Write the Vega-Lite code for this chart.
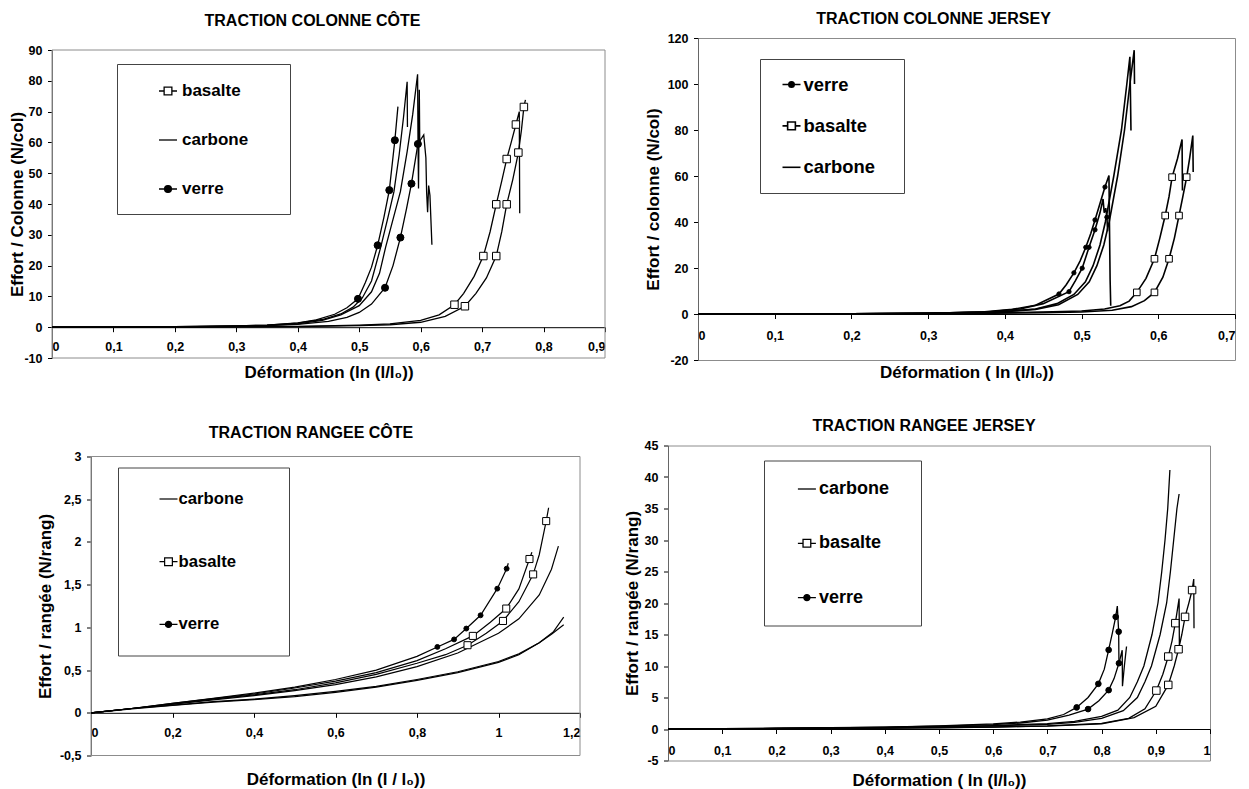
{
"$schema": "https://vega.github.io/schema/vega-lite/v6.json",
"padding": {"left": 8, "top": 10, "right": 3, "bottom": 0},
"config": {
  "locale": {"number": {"decimal": ",", "thousands": " ", "grouping": [3], "currency": ["", " €"], "minus": "-"}},
  "font": "Liberation Sans",
  "view": {"stroke": "#8c8c8c", "strokeWidth": 1},
  "axis": {"grid": false, "labelFont": "Liberation Sans", "labelFontWeight": "bold", "labelFontSize": 12.5, "labelColor": "#000", "titleFont": "Liberation Sans", "titleFontWeight": "bold", "titleFontSize": 17, "titleColor": "#000", "domainColor": "#000", "tickColor": "#000", "tickSize": 4.5, "labelPadding": 5.5},
  "title": {"font": "Liberation Sans", "fontWeight": "bold", "fontSize": 16, "color": "#000", "anchor": "middle"},
  "legend": {"labelFont": "Liberation Sans", "labelFontWeight": "bold", "labelColor": "#000", "symbolSize": 324, "symbolStrokeWidth": 1.3, "symbolStrokeColor": "#000", "strokeColor": "#444", "fillColor": "#fff", "orient": "none", "title": null},
  "point": {"opacity": 1}
},
"datasets": {
"frames": [
{"p":1,"x":0,"x2":0.9,"y":-10,"y2":90},
{"p":3,"x":0,"x2":1.2,"y":-0.5,"y2":3}
],
"curves": [
{"p":1,"m":"verre","c":"1a","x":0,"y":0},{"p":1,"m":"verre","c":"1a","x":0.1,"y":0.05},{"p":1,"m":"verre","c":"1a","x":0.2,"y":0.15},{"p":1,"m":"verre","c":"1a","x":0.3,"y":0.4},{"p":1,"m":"verre","c":"1a","x":0.35,"y":0.7},{"p":1,"m":"verre","c":"1a","x":0.4,"y":1.4},{"p":1,"m":"verre","c":"1a","x":0.43,"y":2.4},{"p":1,"m":"verre","c":"1a","x":0.46,"y":4.2},{"p":1,"m":"verre","c":"1a","x":0.48,"y":6.3},{"p":1,"m":"verre","c":"1a","x":0.498,"y":9.2},{"p":1,"m":"verre","c":"1a","x":0.51,"y":14.5},{"p":1,"m":"verre","c":"1a","x":0.52,"y":19.5},{"p":1,"m":"verre","c":"1a","x":0.53,"y":26.6},{"p":1,"m":"verre","c":"1a","x":0.54,"y":35.5},{"p":1,"m":"verre","c":"1a","x":0.549,"y":44.5},{"p":1,"m":"verre","c":"1a","x":0.558,"y":60.7},{"p":1,"m":"verre","c":"1a","x":0.563,"y":71.6},
{"p":1,"m":"verre","c":"1b","x":0,"y":0},{"p":1,"m":"verre","c":"1b","x":0.1,"y":0.04},{"p":1,"m":"verre","c":"1b","x":0.2,"y":0.12},{"p":1,"m":"verre","c":"1b","x":0.3,"y":0.3},{"p":1,"m":"verre","c":"1b","x":0.35,"y":0.5},{"p":1,"m":"verre","c":"1b","x":0.4,"y":0.9},{"p":1,"m":"verre","c":"1b","x":0.45,"y":1.9},{"p":1,"m":"verre","c":"1b","x":0.48,"y":3.2},{"p":1,"m":"verre","c":"1b","x":0.5,"y":4.8},{"p":1,"m":"verre","c":"1b","x":0.52,"y":7.5},{"p":1,"m":"verre","c":"1b","x":0.542,"y":12.8},{"p":1,"m":"verre","c":"1b","x":0.555,"y":20},{"p":1,"m":"verre","c":"1b","x":0.567,"y":29.1},{"p":1,"m":"verre","c":"1b","x":0.577,"y":38.5},{"p":1,"m":"verre","c":"1b","x":0.585,"y":46.6},{"p":1,"m":"verre","c":"1b","x":0.5955,"y":59.5},{"p":1,"m":"verre","c":"1b","x":0.605,"y":62.4},{"p":1,"m":"verre","c":"1b","x":0.6085,"y":55},{"p":1,"m":"verre","c":"1b","x":0.6097,"y":43.8},{"p":1,"m":"verre","c":"1b","x":0.6113,"y":37.3},{"p":1,"m":"verre","c":"1b","x":0.613,"y":46},{"p":1,"m":"verre","c":"1b","x":0.6151,"y":42.8},{"p":1,"m":"verre","c":"1b","x":0.6183,"y":26.8},
{"p":1,"m":"carbone","c":"1c","x":0,"y":0},{"p":1,"m":"carbone","c":"1c","x":0.1,"y":0.05},{"p":1,"m":"carbone","c":"1c","x":0.2,"y":0.15},{"p":1,"m":"carbone","c":"1c","x":0.3,"y":0.4},{"p":1,"m":"carbone","c":"1c","x":0.35,"y":0.7},{"p":1,"m":"carbone","c":"1c","x":0.4,"y":1.3},{"p":1,"m":"carbone","c":"1c","x":0.44,"y":2.5},{"p":1,"m":"carbone","c":"1c","x":0.47,"y":4.3},{"p":1,"m":"carbone","c":"1c","x":0.49,"y":6.5},{"p":1,"m":"carbone","c":"1c","x":0.505,"y":9.5},{"p":1,"m":"carbone","c":"1c","x":0.52,"y":15},{"p":1,"m":"carbone","c":"1c","x":0.535,"y":26},{"p":1,"m":"carbone","c":"1c","x":0.546,"y":35},{"p":1,"m":"carbone","c":"1c","x":0.5565,"y":44},{"p":1,"m":"carbone","c":"1c","x":0.565,"y":56},{"p":1,"m":"carbone","c":"1c","x":0.572,"y":68},{"p":1,"m":"carbone","c":"1c","x":0.578,"y":79.7},{"p":1,"m":"carbone","c":"1c","x":0.5785,"y":65},
{"p":1,"m":"carbone","c":"1d","x":0,"y":0},{"p":1,"m":"carbone","c":"1d","x":0.1,"y":0.04},{"p":1,"m":"carbone","c":"1d","x":0.2,"y":0.12},{"p":1,"m":"carbone","c":"1d","x":0.3,"y":0.35},{"p":1,"m":"carbone","c":"1d","x":0.35,"y":0.6},{"p":1,"m":"carbone","c":"1d","x":0.4,"y":1.1},{"p":1,"m":"carbone","c":"1d","x":0.44,"y":2.2},{"p":1,"m":"carbone","c":"1d","x":0.47,"y":4},{"p":1,"m":"carbone","c":"1d","x":0.5,"y":7},{"p":1,"m":"carbone","c":"1d","x":0.52,"y":11.5},{"p":1,"m":"carbone","c":"1d","x":0.533,"y":17.5},{"p":1,"m":"carbone","c":"1d","x":0.543,"y":26},{"p":1,"m":"carbone","c":"1d","x":0.555,"y":35},{"p":1,"m":"carbone","c":"1d","x":0.567,"y":44},{"p":1,"m":"carbone","c":"1d","x":0.578,"y":57},{"p":1,"m":"carbone","c":"1d","x":0.587,"y":69},{"p":1,"m":"carbone","c":"1d","x":0.595,"y":82.1},{"p":1,"m":"carbone","c":"1d","x":0.5957,"y":60},{"p":1,"m":"carbone","c":"1d","x":0.5965,"y":45},{"p":1,"m":"carbone","c":"1d","x":0.5972,"y":62},{"p":1,"m":"carbone","c":"1d","x":0.5978,"y":77.1},{"p":1,"m":"carbone","c":"1d","x":0.5985,"y":60},
{"p":1,"m":"basalte","c":"1e","x":0,"y":0},{"p":1,"m":"basalte","c":"1e","x":0.2,"y":0.05},{"p":1,"m":"basalte","c":"1e","x":0.4,"y":0.3},{"p":1,"m":"basalte","c":"1e","x":0.5,"y":0.7},{"p":1,"m":"basalte","c":"1e","x":0.55,"y":1.1},{"p":1,"m":"basalte","c":"1e","x":0.6,"y":2.2},{"p":1,"m":"basalte","c":"1e","x":0.63,"y":4},{"p":1,"m":"basalte","c":"1e","x":0.655,"y":7.3},{"p":1,"m":"basalte","c":"1e","x":0.67,"y":11},{"p":1,"m":"basalte","c":"1e","x":0.687,"y":16.5},{"p":1,"m":"basalte","c":"1e","x":0.702,"y":23.1},{"p":1,"m":"basalte","c":"1e","x":0.713,"y":31},{"p":1,"m":"basalte","c":"1e","x":0.723,"y":39.9},{"p":1,"m":"basalte","c":"1e","x":0.732,"y":47.5},{"p":1,"m":"basalte","c":"1e","x":0.74,"y":54.6},{"p":1,"m":"basalte","c":"1e","x":0.748,"y":60.5},{"p":1,"m":"basalte","c":"1e","x":0.755,"y":65.8},{"p":1,"m":"basalte","c":"1e","x":0.7605,"y":70},{"p":1,"m":"basalte","c":"1e","x":0.7612,"y":37},
{"p":1,"m":"basalte","c":"1f","x":0,"y":0},{"p":1,"m":"basalte","c":"1f","x":0.2,"y":0.03},{"p":1,"m":"basalte","c":"1f","x":0.4,"y":0.2},{"p":1,"m":"basalte","c":"1f","x":0.5,"y":0.5},{"p":1,"m":"basalte","c":"1f","x":0.55,"y":0.8},{"p":1,"m":"basalte","c":"1f","x":0.6,"y":1.6},{"p":1,"m":"basalte","c":"1f","x":0.64,"y":3.5},{"p":1,"m":"basalte","c":"1f","x":0.672,"y":6.8},{"p":1,"m":"basalte","c":"1f","x":0.69,"y":11},{"p":1,"m":"basalte","c":"1f","x":0.707,"y":16},{"p":1,"m":"basalte","c":"1f","x":0.723,"y":23.1},{"p":1,"m":"basalte","c":"1f","x":0.732,"y":31},{"p":1,"m":"basalte","c":"1f","x":0.74,"y":39.9},{"p":1,"m":"basalte","c":"1f","x":0.75,"y":48},{"p":1,"m":"basalte","c":"1f","x":0.759,"y":56.7},{"p":1,"m":"basalte","c":"1f","x":0.764,"y":64},{"p":1,"m":"basalte","c":"1f","x":0.768,"y":71.5},{"p":1,"m":"basalte","c":"1f","x":0.7705,"y":73.8},

{"p":2,"m":"verre","c":"2a","x":0,"y":0},{"p":2,"m":"verre","c":"2a","x":0.1,"y":0.03},{"p":2,"m":"verre","c":"2a","x":0.2,"y":0.1},{"p":2,"m":"verre","c":"2a","x":0.3,"y":0.3},{"p":2,"m":"verre","c":"2a","x":0.37,"y":0.9},{"p":2,"m":"verre","c":"2a","x":0.41,"y":2},{"p":2,"m":"verre","c":"2a","x":0.44,"y":3.8},{"p":2,"m":"verre","c":"2a","x":0.4705,"y":8.7},{"p":2,"m":"verre","c":"2a","x":0.48,"y":12.7},{"p":2,"m":"verre","c":"2a","x":0.49,"y":17.9},{"p":2,"m":"verre","c":"2a","x":0.498,"y":23},{"p":2,"m":"verre","c":"2a","x":0.5055,"y":29},{"p":2,"m":"verre","c":"2a","x":0.512,"y":35},{"p":2,"m":"verre","c":"2a","x":0.5175,"y":40.9},{"p":2,"m":"verre","c":"2a","x":0.524,"y":48},{"p":2,"m":"verre","c":"2a","x":0.5305,"y":55.2},{"p":2,"m":"verre","c":"2a","x":0.5357,"y":60.2},{"p":2,"m":"verre","c":"2a","x":0.5365,"y":35},{"p":2,"m":"verre","c":"2a","x":0.5372,"y":15},{"p":2,"m":"verre","c":"2a","x":0.538,"y":3.6},
{"p":2,"m":"verre","c":"2b","x":0,"y":0},{"p":2,"m":"verre","c":"2b","x":0.1,"y":0.03},{"p":2,"m":"verre","c":"2b","x":0.2,"y":0.1},{"p":2,"m":"verre","c":"2b","x":0.3,"y":0.3},{"p":2,"m":"verre","c":"2b","x":0.38,"y":1},{"p":2,"m":"verre","c":"2b","x":0.42,"y":2.2},{"p":2,"m":"verre","c":"2b","x":0.45,"y":4.5},{"p":2,"m":"verre","c":"2b","x":0.4836,"y":9.7},{"p":2,"m":"verre","c":"2b","x":0.492,"y":14.5},{"p":2,"m":"verre","c":"2b","x":0.5008,"y":19.9},{"p":2,"m":"verre","c":"2b","x":0.5097,"y":29},{"p":2,"m":"verre","c":"2b","x":0.5175,"y":36.6},{"p":2,"m":"verre","c":"2b","x":0.524,"y":44},{"p":2,"m":"verre","c":"2b","x":0.528,"y":50},{"p":2,"m":"verre","c":"2b","x":0.5295,"y":44},{"p":2,"m":"verre","c":"2b","x":0.5315,"y":46},{"p":2,"m":"verre","c":"2b","x":0.533,"y":42.1},{"p":2,"m":"verre","c":"2b","x":0.534,"y":36},
{"p":2,"m":"carbone","c":"2c","x":0,"y":0},{"p":2,"m":"carbone","c":"2c","x":0.1,"y":0.03},{"p":2,"m":"carbone","c":"2c","x":0.2,"y":0.1},{"p":2,"m":"carbone","c":"2c","x":0.3,"y":0.3},{"p":2,"m":"carbone","c":"2c","x":0.36,"y":0.7},{"p":2,"m":"carbone","c":"2c","x":0.4,"y":1.1},{"p":2,"m":"carbone","c":"2c","x":0.44,"y":2.2},{"p":2,"m":"carbone","c":"2c","x":0.468,"y":4.5},{"p":2,"m":"carbone","c":"2c","x":0.49,"y":8.5},{"p":2,"m":"carbone","c":"2c","x":0.505,"y":14},{"p":2,"m":"carbone","c":"2c","x":0.515,"y":21},{"p":2,"m":"carbone","c":"2c","x":0.524,"y":30},{"p":2,"m":"carbone","c":"2c","x":0.531,"y":40},{"p":2,"m":"carbone","c":"2c","x":0.542,"y":60},{"p":2,"m":"carbone","c":"2c","x":0.552,"y":80},{"p":2,"m":"carbone","c":"2c","x":0.559,"y":100},{"p":2,"m":"carbone","c":"2c","x":0.563,"y":111.8},{"p":2,"m":"carbone","c":"2c","x":0.5644,"y":79.8},
{"p":2,"m":"carbone","c":"2d","x":0,"y":0},{"p":2,"m":"carbone","c":"2d","x":0.1,"y":0.03},{"p":2,"m":"carbone","c":"2d","x":0.2,"y":0.1},{"p":2,"m":"carbone","c":"2d","x":0.3,"y":0.3},{"p":2,"m":"carbone","c":"2d","x":0.36,"y":0.6},{"p":2,"m":"carbone","c":"2d","x":0.4,"y":1},{"p":2,"m":"carbone","c":"2d","x":0.44,"y":2},{"p":2,"m":"carbone","c":"2d","x":0.47,"y":4},{"p":2,"m":"carbone","c":"2d","x":0.495,"y":8.5},{"p":2,"m":"carbone","c":"2d","x":0.51,"y":14},{"p":2,"m":"carbone","c":"2d","x":0.52,"y":21},{"p":2,"m":"carbone","c":"2d","x":0.529,"y":30},{"p":2,"m":"carbone","c":"2d","x":0.536,"y":40},{"p":2,"m":"carbone","c":"2d","x":0.547,"y":60},{"p":2,"m":"carbone","c":"2d","x":0.556,"y":80},{"p":2,"m":"carbone","c":"2d","x":0.563,"y":100},{"p":2,"m":"carbone","c":"2d","x":0.5686,"y":114.7},{"p":2,"m":"carbone","c":"2d","x":0.569,"y":100},
{"p":2,"m":"basalte","c":"2e","x":0,"y":0},{"p":2,"m":"basalte","c":"2e","x":0.2,"y":0.05},{"p":2,"m":"basalte","c":"2e","x":0.35,"y":0.3},{"p":2,"m":"basalte","c":"2e","x":0.45,"y":0.8},{"p":2,"m":"basalte","c":"2e","x":0.5,"y":1.3},{"p":2,"m":"basalte","c":"2e","x":0.53,"y":2.2},{"p":2,"m":"basalte","c":"2e","x":0.55,"y":3.6},{"p":2,"m":"basalte","c":"2e","x":0.562,"y":5.6},{"p":2,"m":"basalte","c":"2e","x":0.572,"y":9.4},{"p":2,"m":"basalte","c":"2e","x":0.584,"y":15.5},{"p":2,"m":"basalte","c":"2e","x":0.595,"y":24},{"p":2,"m":"basalte","c":"2e","x":0.602,"y":33},{"p":2,"m":"basalte","c":"2e","x":0.609,"y":42.8},{"p":2,"m":"basalte","c":"2e","x":0.614,"y":51},{"p":2,"m":"basalte","c":"2e","x":0.618,"y":59.5},{"p":2,"m":"basalte","c":"2e","x":0.625,"y":67.5},{"p":2,"m":"basalte","c":"2e","x":0.631,"y":75.9},{"p":2,"m":"basalte","c":"2e","x":0.6315,"y":53.7},
{"p":2,"m":"basalte","c":"2f","x":0,"y":0},{"p":2,"m":"basalte","c":"2f","x":0.2,"y":0.03},{"p":2,"m":"basalte","c":"2f","x":0.35,"y":0.2},{"p":2,"m":"basalte","c":"2f","x":0.45,"y":0.6},{"p":2,"m":"basalte","c":"2f","x":0.5,"y":0.9},{"p":2,"m":"basalte","c":"2f","x":0.54,"y":1.6},{"p":2,"m":"basalte","c":"2f","x":0.565,"y":3.2},{"p":2,"m":"basalte","c":"2f","x":0.582,"y":5.8},{"p":2,"m":"basalte","c":"2f","x":0.595,"y":9.4},{"p":2,"m":"basalte","c":"2f","x":0.606,"y":16},{"p":2,"m":"basalte","c":"2f","x":0.614,"y":24},{"p":2,"m":"basalte","c":"2f","x":0.621,"y":33},{"p":2,"m":"basalte","c":"2f","x":0.627,"y":42.8},{"p":2,"m":"basalte","c":"2f","x":0.632,"y":51},{"p":2,"m":"basalte","c":"2f","x":0.637,"y":59.5},{"p":2,"m":"basalte","c":"2f","x":0.641,"y":68},{"p":2,"m":"basalte","c":"2f","x":0.645,"y":77.6},{"p":2,"m":"basalte","c":"2f","x":0.6455,"y":61.7},

{"p":3,"m":"verre","c":"3a","x":0,"y":0},{"p":3,"m":"verre","c":"3a","x":0.1,"y":0.05},{"p":3,"m":"verre","c":"3a","x":0.2,"y":0.11},{"p":3,"m":"verre","c":"3a","x":0.3,"y":0.17},{"p":3,"m":"verre","c":"3a","x":0.4,"y":0.23},{"p":3,"m":"verre","c":"3a","x":0.5,"y":0.3},{"p":3,"m":"verre","c":"3a","x":0.6,"y":0.39},{"p":3,"m":"verre","c":"3a","x":0.7,"y":0.5},{"p":3,"m":"verre","c":"3a","x":0.8,"y":0.66},{"p":3,"m":"verre","c":"3a","x":0.85,"y":0.771},{"p":3,"m":"verre","c":"3a","x":0.891,"y":0.859},{"p":3,"m":"verre","c":"3a","x":0.921,"y":0.986},{"p":3,"m":"verre","c":"3a","x":0.956,"y":1.141},{"p":3,"m":"verre","c":"3a","x":0.997,"y":1.453},{"p":3,"m":"verre","c":"3a","x":1.02,"y":1.687},{"p":3,"m":"verre","c":"3a","x":1.024,"y":1.75},
{"p":3,"m":"basalte","c":"3b","x":0,"y":0},{"p":3,"m":"basalte","c":"3b","x":0.1,"y":0.05},{"p":3,"m":"basalte","c":"3b","x":0.2,"y":0.11},{"p":3,"m":"basalte","c":"3b","x":0.3,"y":0.165},{"p":3,"m":"basalte","c":"3b","x":0.4,"y":0.22},{"p":3,"m":"basalte","c":"3b","x":0.5,"y":0.29},{"p":3,"m":"basalte","c":"3b","x":0.6,"y":0.37},{"p":3,"m":"basalte","c":"3b","x":0.7,"y":0.47},{"p":3,"m":"basalte","c":"3b","x":0.8,"y":0.61},{"p":3,"m":"basalte","c":"3b","x":0.87,"y":0.75},{"p":3,"m":"basalte","c":"3b","x":0.937,"y":0.9},{"p":3,"m":"basalte","c":"3b","x":0.98,"y":1.06},{"p":3,"m":"basalte","c":"3b","x":1.019,"y":1.22},{"p":3,"m":"basalte","c":"3b","x":1.05,"y":1.45},{"p":3,"m":"basalte","c":"3b","x":1.076,"y":1.8},{"p":3,"m":"basalte","c":"3b","x":1.082,"y":1.88},
{"p":3,"m":"basalte","c":"3c","x":0,"y":0},{"p":3,"m":"basalte","c":"3c","x":0.1,"y":0.05},{"p":3,"m":"basalte","c":"3c","x":0.2,"y":0.1},{"p":3,"m":"basalte","c":"3c","x":0.3,"y":0.16},{"p":3,"m":"basalte","c":"3c","x":0.4,"y":0.21},{"p":3,"m":"basalte","c":"3c","x":0.5,"y":0.27},{"p":3,"m":"basalte","c":"3c","x":0.6,"y":0.35},{"p":3,"m":"basalte","c":"3c","x":0.7,"y":0.45},{"p":3,"m":"basalte","c":"3c","x":0.8,"y":0.58},{"p":3,"m":"basalte","c":"3c","x":0.87,"y":0.68},{"p":3,"m":"basalte","c":"3c","x":0.924,"y":0.791},{"p":3,"m":"basalte","c":"3c","x":0.97,"y":0.93},{"p":3,"m":"basalte","c":"3c","x":1.011,"y":1.075},{"p":3,"m":"basalte","c":"3c","x":1.05,"y":1.3},{"p":3,"m":"basalte","c":"3c","x":1.085,"y":1.62},{"p":3,"m":"basalte","c":"3c","x":1.1,"y":1.85},{"p":3,"m":"basalte","c":"3c","x":1.117,"y":2.244},{"p":3,"m":"basalte","c":"3c","x":1.123,"y":2.4},
{"p":3,"m":"carbone","c":"3d","x":0,"y":0},{"p":3,"m":"carbone","c":"3d","x":0.1,"y":0.05},{"p":3,"m":"carbone","c":"3d","x":0.2,"y":0.1},{"p":3,"m":"carbone","c":"3d","x":0.3,"y":0.15},{"p":3,"m":"carbone","c":"3d","x":0.4,"y":0.2},{"p":3,"m":"carbone","c":"3d","x":0.5,"y":0.26},{"p":3,"m":"carbone","c":"3d","x":0.6,"y":0.33},{"p":3,"m":"carbone","c":"3d","x":0.7,"y":0.42},{"p":3,"m":"carbone","c":"3d","x":0.8,"y":0.54},{"p":3,"m":"carbone","c":"3d","x":0.9,"y":0.7},{"p":3,"m":"carbone","c":"3d","x":1,"y":0.93},{"p":3,"m":"carbone","c":"3d","x":1.05,"y":1.1},{"p":3,"m":"carbone","c":"3d","x":1.1,"y":1.38},{"p":3,"m":"carbone","c":"3d","x":1.13,"y":1.68},{"p":3,"m":"carbone","c":"3d","x":1.147,"y":1.95},
{"p":3,"m":"carbone","c":"3e","x":0,"y":0},{"p":3,"m":"carbone","c":"3e","x":0.1,"y":0.05},{"p":3,"m":"carbone","c":"3e","x":0.2,"y":0.09},{"p":3,"m":"carbone","c":"3e","x":0.3,"y":0.13},{"p":3,"m":"carbone","c":"3e","x":0.4,"y":0.16},{"p":3,"m":"carbone","c":"3e","x":0.5,"y":0.2},{"p":3,"m":"carbone","c":"3e","x":0.6,"y":0.25},{"p":3,"m":"carbone","c":"3e","x":0.7,"y":0.31},{"p":3,"m":"carbone","c":"3e","x":0.8,"y":0.39},{"p":3,"m":"carbone","c":"3e","x":0.9,"y":0.48},{"p":3,"m":"carbone","c":"3e","x":1,"y":0.6},{"p":3,"m":"carbone","c":"3e","x":1.05,"y":0.69},{"p":3,"m":"carbone","c":"3e","x":1.1,"y":0.82},{"p":3,"m":"carbone","c":"3e","x":1.13,"y":0.92},{"p":3,"m":"carbone","c":"3e","x":1.16,"y":1.03},
{"p":3,"m":"carbone","c":"3f","x":0,"y":0},{"p":3,"m":"carbone","c":"3f","x":0.1,"y":0.045},{"p":3,"m":"carbone","c":"3f","x":0.2,"y":0.085},{"p":3,"m":"carbone","c":"3f","x":0.3,"y":0.125},{"p":3,"m":"carbone","c":"3f","x":0.4,"y":0.155},{"p":3,"m":"carbone","c":"3f","x":0.5,"y":0.19},{"p":3,"m":"carbone","c":"3f","x":0.6,"y":0.24},{"p":3,"m":"carbone","c":"3f","x":0.7,"y":0.3},{"p":3,"m":"carbone","c":"3f","x":0.8,"y":0.38},{"p":3,"m":"carbone","c":"3f","x":0.9,"y":0.47},{"p":3,"m":"carbone","c":"3f","x":1,"y":0.59},{"p":3,"m":"carbone","c":"3f","x":1.05,"y":0.68},{"p":3,"m":"carbone","c":"3f","x":1.1,"y":0.82},{"p":3,"m":"carbone","c":"3f","x":1.135,"y":0.95},{"p":3,"m":"carbone","c":"3f","x":1.16,"y":1.12},

{"p":4,"m":"verre","c":"4a","x":0,"y":0},{"p":4,"m":"verre","c":"4a","x":0.1,"y":0.05},{"p":4,"m":"verre","c":"4a","x":0.2,"y":0.12},{"p":4,"m":"verre","c":"4a","x":0.3,"y":0.2},{"p":4,"m":"verre","c":"4a","x":0.4,"y":0.3},{"p":4,"m":"verre","c":"4a","x":0.5,"y":0.5},{"p":4,"m":"verre","c":"4a","x":0.6,"y":0.8},{"p":4,"m":"verre","c":"4a","x":0.65,"y":1.1},{"p":4,"m":"verre","c":"4a","x":0.7,"y":1.6},{"p":4,"m":"verre","c":"4a","x":0.73,"y":2.3},{"p":4,"m":"verre","c":"4a","x":0.754,"y":3.43},{"p":4,"m":"verre","c":"4a","x":0.775,"y":5},{"p":4,"m":"verre","c":"4a","x":0.794,"y":7.17},{"p":4,"m":"verre","c":"4a","x":0.805,"y":9.5},{"p":4,"m":"verre","c":"4a","x":0.813,"y":12.55},{"p":4,"m":"verre","c":"4a","x":0.82,"y":15.3},{"p":4,"m":"verre","c":"4a","x":0.826,"y":17.8},{"p":4,"m":"verre","c":"4a","x":0.829,"y":19.5},{"p":4,"m":"verre","c":"4a","x":0.8315,"y":15.45},{"p":4,"m":"verre","c":"4a","x":0.832,"y":10.44},
{"p":4,"m":"verre","c":"4b","x":0,"y":0},{"p":4,"m":"verre","c":"4b","x":0.1,"y":0.05},{"p":4,"m":"verre","c":"4b","x":0.2,"y":0.1},{"p":4,"m":"verre","c":"4b","x":0.3,"y":0.18},{"p":4,"m":"verre","c":"4b","x":0.4,"y":0.28},{"p":4,"m":"verre","c":"4b","x":0.5,"y":0.45},{"p":4,"m":"verre","c":"4b","x":0.6,"y":0.7},{"p":4,"m":"verre","c":"4b","x":0.65,"y":0.95},{"p":4,"m":"verre","c":"4b","x":0.7,"y":1.4},{"p":4,"m":"verre","c":"4b","x":0.74,"y":2.2},{"p":4,"m":"verre","c":"4b","x":0.775,"y":3.16},{"p":4,"m":"verre","c":"4b","x":0.795,"y":4.5},{"p":4,"m":"verre","c":"4b","x":0.813,"y":6.17},{"p":4,"m":"verre","c":"4b","x":0.823,"y":8},{"p":4,"m":"verre","c":"4b","x":0.8325,"y":10.6},{"p":4,"m":"verre","c":"4b","x":0.838,"y":12.5},{"p":4,"m":"verre","c":"4b","x":0.8385,"y":6.8},{"p":4,"m":"verre","c":"4b","x":0.842,"y":10},{"p":4,"m":"verre","c":"4b","x":0.846,"y":13.1},
{"p":4,"m":"carbone","c":"4c","x":0,"y":0},{"p":4,"m":"carbone","c":"4c","x":0.1,"y":0.04},{"p":4,"m":"carbone","c":"4c","x":0.2,"y":0.08},{"p":4,"m":"carbone","c":"4c","x":0.3,"y":0.14},{"p":4,"m":"carbone","c":"4c","x":0.4,"y":0.22},{"p":4,"m":"carbone","c":"4c","x":0.5,"y":0.35},{"p":4,"m":"carbone","c":"4c","x":0.6,"y":0.55},{"p":4,"m":"carbone","c":"4c","x":0.7,"y":0.85},{"p":4,"m":"carbone","c":"4c","x":0.75,"y":1.2},{"p":4,"m":"carbone","c":"4c","x":0.8,"y":2},{"p":4,"m":"carbone","c":"4c","x":0.83,"y":3},{"p":4,"m":"carbone","c":"4c","x":0.852,"y":5},{"p":4,"m":"carbone","c":"4c","x":0.866,"y":7.5},{"p":4,"m":"carbone","c":"4c","x":0.878,"y":10},{"p":4,"m":"carbone","c":"4c","x":0.893,"y":15},{"p":4,"m":"carbone","c":"4c","x":0.904,"y":20},{"p":4,"m":"carbone","c":"4c","x":0.911,"y":25},{"p":4,"m":"carbone","c":"4c","x":0.917,"y":30},{"p":4,"m":"carbone","c":"4c","x":0.922,"y":35},{"p":4,"m":"carbone","c":"4c","x":0.926,"y":41.1},
{"p":4,"m":"carbone","c":"4d","x":0,"y":0},{"p":4,"m":"carbone","c":"4d","x":0.1,"y":0.04},{"p":4,"m":"carbone","c":"4d","x":0.2,"y":0.08},{"p":4,"m":"carbone","c":"4d","x":0.3,"y":0.13},{"p":4,"m":"carbone","c":"4d","x":0.4,"y":0.2},{"p":4,"m":"carbone","c":"4d","x":0.5,"y":0.3},{"p":4,"m":"carbone","c":"4d","x":0.6,"y":0.5},{"p":4,"m":"carbone","c":"4d","x":0.7,"y":0.75},{"p":4,"m":"carbone","c":"4d","x":0.75,"y":1.05},{"p":4,"m":"carbone","c":"4d","x":0.8,"y":1.7},{"p":4,"m":"carbone","c":"4d","x":0.84,"y":2.9},{"p":4,"m":"carbone","c":"4d","x":0.866,"y":5},{"p":4,"m":"carbone","c":"4d","x":0.88,"y":7.5},{"p":4,"m":"carbone","c":"4d","x":0.892,"y":10},{"p":4,"m":"carbone","c":"4d","x":0.908,"y":15},{"p":4,"m":"carbone","c":"4d","x":0.92,"y":20},{"p":4,"m":"carbone","c":"4d","x":0.927,"y":25},{"p":4,"m":"carbone","c":"4d","x":0.933,"y":30},{"p":4,"m":"carbone","c":"4d","x":0.939,"y":35},{"p":4,"m":"carbone","c":"4d","x":0.943,"y":37.3},
{"p":4,"m":"basalte","c":"4e","x":0,"y":0},{"p":4,"m":"basalte","c":"4e","x":0.1,"y":0.03},{"p":4,"m":"basalte","c":"4e","x":0.2,"y":0.06},{"p":4,"m":"basalte","c":"4e","x":0.3,"y":0.1},{"p":4,"m":"basalte","c":"4e","x":0.4,"y":0.15},{"p":4,"m":"basalte","c":"4e","x":0.5,"y":0.22},{"p":4,"m":"basalte","c":"4e","x":0.6,"y":0.32},{"p":4,"m":"basalte","c":"4e","x":0.7,"y":0.5},{"p":4,"m":"basalte","c":"4e","x":0.8,"y":0.9},{"p":4,"m":"basalte","c":"4e","x":0.85,"y":1.7},{"p":4,"m":"basalte","c":"4e","x":0.88,"y":3.2},{"p":4,"m":"basalte","c":"4e","x":0.901,"y":6.1},{"p":4,"m":"basalte","c":"4e","x":0.913,"y":8.7},{"p":4,"m":"basalte","c":"4e","x":0.923,"y":11.5},{"p":4,"m":"basalte","c":"4e","x":0.93,"y":14},{"p":4,"m":"basalte","c":"4e","x":0.936,"y":16.8},{"p":4,"m":"basalte","c":"4e","x":0.943,"y":20.7},{"p":4,"m":"basalte","c":"4e","x":0.9435,"y":13},
{"p":4,"m":"basalte","c":"4f","x":0,"y":0},{"p":4,"m":"basalte","c":"4f","x":0.1,"y":0.03},{"p":4,"m":"basalte","c":"4f","x":0.2,"y":0.06},{"p":4,"m":"basalte","c":"4f","x":0.3,"y":0.1},{"p":4,"m":"basalte","c":"4f","x":0.4,"y":0.14},{"p":4,"m":"basalte","c":"4f","x":0.5,"y":0.2},{"p":4,"m":"basalte","c":"4f","x":0.6,"y":0.3},{"p":4,"m":"basalte","c":"4f","x":0.7,"y":0.45},{"p":4,"m":"basalte","c":"4f","x":0.8,"y":0.8},{"p":4,"m":"basalte","c":"4f","x":0.86,"y":1.8},{"p":4,"m":"basalte","c":"4f","x":0.9,"y":3.6},{"p":4,"m":"basalte","c":"4f","x":0.923,"y":7},{"p":4,"m":"basalte","c":"4f","x":0.934,"y":10},{"p":4,"m":"basalte","c":"4f","x":0.942,"y":12.66},{"p":4,"m":"basalte","c":"4f","x":0.948,"y":15},{"p":4,"m":"basalte","c":"4f","x":0.954,"y":17.8},{"p":4,"m":"basalte","c":"4f","x":0.961,"y":20},{"p":4,"m":"basalte","c":"4f","x":0.967,"y":22.05},{"p":4,"m":"basalte","c":"4f","x":0.97,"y":23.8},{"p":4,"m":"basalte","c":"4f","x":0.9705,"y":16}
],
"markers": [
{"p":1,"m":"verre","x":0.498,"y":9.2},{"p":1,"m":"verre","x":0.53,"y":26.6},{"p":1,"m":"verre","x":0.549,"y":44.5},{"p":1,"m":"verre","x":0.558,"y":60.7},{"p":1,"m":"verre","x":0.542,"y":12.8},{"p":1,"m":"verre","x":0.567,"y":29.1},{"p":1,"m":"verre","x":0.585,"y":46.6},{"p":1,"m":"verre","x":0.5955,"y":59.5},
{"p":1,"m":"basalte","x":0.655,"y":7.3},{"p":1,"m":"basalte","x":0.672,"y":6.8},{"p":1,"m":"basalte","x":0.702,"y":23.1},{"p":1,"m":"basalte","x":0.723,"y":23.1},{"p":1,"m":"basalte","x":0.723,"y":39.9},{"p":1,"m":"basalte","x":0.74,"y":39.9},{"p":1,"m":"basalte","x":0.74,"y":54.6},{"p":1,"m":"basalte","x":0.755,"y":65.8},{"p":1,"m":"basalte","x":0.759,"y":56.7},{"p":1,"m":"basalte","x":0.768,"y":71.5},
{"p":2,"m":"verre","x":0.4705,"y":8.7},{"p":2,"m":"verre","x":0.4836,"y":9.7},{"p":2,"m":"verre","x":0.49,"y":17.9},{"p":2,"m":"verre","x":0.5008,"y":19.9},{"p":2,"m":"verre","x":0.5055,"y":29},{"p":2,"m":"verre","x":0.5097,"y":29},{"p":2,"m":"verre","x":0.5175,"y":36.6},{"p":2,"m":"verre","x":0.5175,"y":40.9},{"p":2,"m":"verre","x":0.5305,"y":55.2},{"p":2,"m":"verre","x":0.533,"y":42.1},
{"p":2,"m":"basalte","x":0.572,"y":9.4},{"p":2,"m":"basalte","x":0.595,"y":9.4},{"p":2,"m":"basalte","x":0.595,"y":24},{"p":2,"m":"basalte","x":0.614,"y":24},{"p":2,"m":"basalte","x":0.609,"y":42.8},{"p":2,"m":"basalte","x":0.627,"y":42.8},{"p":2,"m":"basalte","x":0.618,"y":59.5},{"p":2,"m":"basalte","x":0.637,"y":59.5},
{"p":3,"m":"verre","x":0.85,"y":0.771},{"p":3,"m":"verre","x":0.891,"y":0.859},{"p":3,"m":"verre","x":0.921,"y":0.986},{"p":3,"m":"verre","x":0.956,"y":1.141},{"p":3,"m":"verre","x":0.997,"y":1.453},{"p":3,"m":"verre","x":1.02,"y":1.687},
{"p":3,"m":"basalte","x":0.924,"y":0.791},{"p":3,"m":"basalte","x":0.937,"y":0.9},{"p":3,"m":"basalte","x":1.011,"y":1.075},{"p":3,"m":"basalte","x":1.019,"y":1.22},{"p":3,"m":"basalte","x":1.076,"y":1.8},{"p":3,"m":"basalte","x":1.085,"y":1.62},{"p":3,"m":"basalte","x":1.117,"y":2.244},
{"p":4,"m":"verre","x":0.754,"y":3.43},{"p":4,"m":"verre","x":0.775,"y":3.16},{"p":4,"m":"verre","x":0.794,"y":7.17},{"p":4,"m":"verre","x":0.813,"y":6.17},{"p":4,"m":"verre","x":0.813,"y":12.55},{"p":4,"m":"verre","x":0.826,"y":17.8},{"p":4,"m":"verre","x":0.8315,"y":15.45},{"p":4,"m":"verre","x":0.832,"y":10.44},
{"p":4,"m":"basalte","x":0.901,"y":6.1},{"p":4,"m":"basalte","x":0.923,"y":7},{"p":4,"m":"basalte","x":0.923,"y":11.5},{"p":4,"m":"basalte","x":0.936,"y":16.8},{"p":4,"m":"basalte","x":0.942,"y":12.66},{"p":4,"m":"basalte","x":0.954,"y":17.8},{"p":4,"m":"basalte","x":0.967,"y":22.05}
]
},
"vconcat": [
 {"hconcat": [
  {"width": 553, "height": 320, "view": {"stroke": null},
   "title": {"text": "TRACTION COLONNE CÔTE", "offset": 9.5, "dx": -16},
   "encoding": {
     "x": {"field": "x", "type": "quantitative", "scale": {"domain": [0, 0.9], "nice": false, "zero": false}, "axis": {"values": [0,0.1,0.2,0.3,0.4,0.5,0.6,0.7,0.8,0.9], "format": ".2~f", "offset": -30.8, "labelPadding": 9, "titlePadding": 11, "title": "Déformation (ln (l/l\u2080))"}},
     "y": {"field": "y", "type": "quantitative", "scale": {"domain": [-10, 90], "range": [320, 12], "nice": false, "zero": false}, "axis": {"values": [-10,0,10,20,30,40,50,60,70,80,90], "format": ".2~f", "titlePadding": -3, "domainColor": "#666", "title": "Effort / Colonne (N/col)"}}
   },
   "layer": [
    {"data": {"name": "frames"}, "transform": [{"filter": "datum.p == 1"}],
     "mark": {"type": "rect", "fill": "transparent", "stroke": "#8c8c8c", "strokeWidth": 1},
     "encoding": {"x2": {"field": "x2"}, "y2": {"field": "y2"}}},
    {"data": {"name": "curves"}, "transform": [{"filter": "datum.p == 1"}],
     "mark": {"type": "line", "strokeWidth": 1.3},
     "encoding": {
       "detail": {"field": "c", "type": "nominal"},
       "color": {"field": "m", "type": "nominal", "scale": {"domain": ["basalte", "carbone", "verre"], "range": ["#000", "#000", "#000"]},
         "legend": {"legendX": 65, "legendY": 26, "padding": 17, "rowPadding": 31, "symbolOffset": 24, "labelOffset": 4, "labelFontSize": 17,
           "labelExpr": "datum.label + '\u2800\u2800'",
           "encode": {"symbols": {"update": {
             "shape": {"signal": "datum.value === 'basalte' ? 'M-1,0H-0.43M0.43,0H1M-0.43,-0.43H0.43V0.43H-0.43Z' : datum.value === 'verre' ? 'M-1,0H1M-0.38,0A0.38,0.38,0,1,1,0.38,0A0.38,0.38,0,1,1,-0.38,0Z' : 'M-1,0H1'"},
             "fill": {"signal": "datum.value === 'verre' ? '#000' : datum.value === 'basalte' ? '#fff' : 'transparent'"},
             "stroke": {"value": "#000"}, "strokeWidth": {"value": 1.3}, "opacity": {"value": 1}}}}}}
     }},
    {"data": {"name": "markers"}, "transform": [{"filter": "datum.p == 1"}],
     "mark": {"type": "point", "filled": true, "stroke": "#000", "strokeWidth": 1},
     "encoding": {
       "shape": {"field": "m", "type": "nominal", "scale": {"domain": ["basalte", "verre"], "range": ["square", "circle"]}, "legend": null},
       "fill": {"field": "m", "type": "nominal", "scale": {"domain": ["basalte", "verre"], "range": ["#fff", "#000"]}, "legend": null},
       "size": {"field": "m", "type": "nominal", "scale": {"domain": ["basalte", "verre"], "range": [56, 50]}, "legend": null}
     }}
   ]},
  {"width": 537, "height": 322,
   "title": {"text": "TRACTION COLONNE JERSEY", "offset": 5.5, "dx": -33},
   "encoding": {
     "x": {"field": "x", "type": "quantitative", "scale": {"domain": [0, 0.7], "nice": false, "zero": false}, "axis": {"values": [0,0.1,0.2,0.3,0.4,0.5,0.6,0.7], "format": ".2~f", "offset": -46, "labelPadding": 10.5, "titlePadding": 22.5, "title": "Déformation ( ln (l/l\u2080))"}},
     "y": {"field": "y", "type": "quantitative", "scale": {"domain": [-20, 120], "nice": false, "zero": false}, "axis": {"values": [-20,0,20,40,60,80,100,120], "format": ".2~f", "titlePadding": 5, "domainColor": "#666", "title": "Effort / colonne (N/col)"}}
   },
   "layer": [
    {"data": {"name": "curves"}, "transform": [{"filter": "datum.p == 2"}],
     "mark": {"type": "line", "strokeWidth": 1.6},
     "encoding": {
       "detail": {"field": "c", "type": "nominal"},
       "color": {"field": "m", "type": "nominal", "scale": {"domain": ["verre", "basalte", "carbone"], "range": ["#000", "#000", "#000"]},
         "legend": {"legendX": 62, "legendY": 21, "padding": 15.5, "rowPadding": 21.4, "symbolOffset": 6, "labelOffset": 2, "labelFontSize": 18.4,
           "labelExpr": "datum.label + '\u2800'",
           "encode": {"symbols": {"update": {
             "shape": {"signal": "datum.value === 'basalte' ? 'M-1,0H-0.43M0.43,0H1M-0.43,-0.43H0.43V0.43H-0.43Z' : datum.value === 'verre' ? 'M-1,0H1M-0.3,0A0.3,0.3,0,1,1,0.3,0A0.3,0.3,0,1,1,-0.3,0Z' : 'M-1,0H1'"},
             "fill": {"signal": "datum.value === 'verre' ? '#000' : datum.value === 'basalte' ? '#fff' : 'transparent'"},
             "stroke": {"value": "#000"}, "strokeWidth": {"value": 1.6}, "opacity": {"value": 1}}}}}}
     }},
    {"data": {"name": "markers"}, "transform": [{"filter": "datum.p == 2"}],
     "mark": {"type": "point", "filled": true, "stroke": "#000", "strokeWidth": 1},
     "encoding": {
       "shape": {"field": "m", "type": "nominal", "scale": {"domain": ["basalte", "verre"], "range": ["square", "circle"]}, "legend": null},
       "fill": {"field": "m", "type": "nominal", "scale": {"domain": ["basalte", "verre"], "range": ["#fff", "#000"]}, "legend": null},
       "size": {"field": "m", "type": "nominal", "scale": {"domain": ["basalte", "verre"], "range": [44, 18]}, "legend": null}
     }}
   ]}
 ], "spacing": 37,
 "resolve": {"scale": {"x": "independent", "y": "independent", "color": "independent", "shape": "independent", "fill": "independent", "size": "independent"}, "legend": {"color": "independent"}}},
 {"hconcat": [
  {"width": 528, "height": 310, "view": {"stroke": null},
   "title": {"text": "TRACTION RANGEE CÔTE", "offset": 4.6, "dx": -5},
   "encoding": {
     "x": {"field": "x", "type": "quantitative", "scale": {"domain": [0, 1.2], "range": [39, 528], "nice": false, "zero": false}, "axis": {"values": [0,0.2,0.4,0.6,0.8,1,1.2], "format": ".2~f", "offset": -42.7, "labelPadding": 9.5, "titlePadding": 32, "title": "Déformation (ln (l / l\u2080))"}},
     "y": {"field": "y", "type": "quantitative", "scale": {"domain": [-0.5, 3], "range": [310, 11], "nice": false, "zero": false}, "axis": {"values": [-0.5,0,0.5,1,1.5,2,2.5,3], "format": ".2~f", "offset": -39, "titlePadding": 4.5, "domainColor": "#666", "title": "Effort / rangée (N/rang)"}}
   },
   "layer": [
    {"data": {"name": "frames"}, "transform": [{"filter": "datum.p == 3"}],
     "mark": {"type": "rect", "fill": "transparent", "stroke": "#8c8c8c", "strokeWidth": 1},
     "encoding": {"x2": {"field": "x2"}, "y2": {"field": "y2"}}},
    {"data": {"name": "curves"}, "transform": [{"filter": "datum.p == 3"}],
     "mark": {"type": "line", "strokeWidth": 1.2},
     "encoding": {
       "detail": {"field": "c", "type": "nominal"},
       "color": {"field": "m", "type": "nominal", "scale": {"domain": ["carbone", "basalte", "verre"], "range": ["#000", "#000", "#000"]},
         "legend": {"legendX": 66, "legendY": 22, "padding": 21.5, "rowPadding": 43.7, "symbolOffset": 19, "labelOffset": 0, "labelFontSize": 16.7,
           "labelExpr": "datum.label + '\u2800\u2800'",
           "encode": {"symbols": {"update": {
             "shape": {"signal": "datum.value === 'basalte' ? 'M-1,0H-0.43M0.43,0H1M-0.43,-0.43H0.43V0.43H-0.43Z' : datum.value === 'verre' ? 'M-1,0H1M-0.34,0A0.34,0.34,0,1,1,0.34,0A0.34,0.34,0,1,1,-0.34,0Z' : 'M-1,0H1'"},
             "fill": {"signal": "datum.value === 'verre' ? '#000' : datum.value === 'basalte' ? '#fff' : 'transparent'"},
             "stroke": {"value": "#000"}, "strokeWidth": {"value": 1.2}, "opacity": {"value": 1}}}}}}
     }},
    {"data": {"name": "markers"}, "transform": [{"filter": "datum.p == 3"}],
     "mark": {"type": "point", "filled": true, "stroke": "#000", "strokeWidth": 1},
     "encoding": {
       "shape": {"field": "m", "type": "nominal", "scale": {"domain": ["basalte", "verre"], "range": ["square", "circle"]}, "legend": null},
       "fill": {"field": "m", "type": "nominal", "scale": {"domain": ["basalte", "verre"], "range": ["#fff", "#000"]}, "legend": null},
       "size": {"field": "m", "type": "nominal", "scale": {"domain": ["basalte", "verre"], "range": [50, 24]}, "legend": null}
     }}
   ]},
  {"width": 542, "height": 315,
   "title": {"text": "TRACTION RANGEE JERSEY", "offset": 6, "dx": -15},
   "encoding": {
     "x": {"field": "x", "type": "quantitative", "scale": {"domain": [0, 1], "nice": false, "zero": false}, "axis": {"values": [0,0.1,0.2,0.3,0.4,0.5,0.6,0.7,0.8,0.9,1], "format": ".2~f", "offset": -31.5, "labelPadding": 10.5, "titlePadding": 16, "title": "Déformation ( ln (l/l\u2080))"}},
     "y": {"field": "y", "type": "quantitative", "scale": {"domain": [-5, 45], "nice": false, "zero": false}, "axis": {"values": [-5,0,5,10,15,20,25,30,35,40,45], "format": ".2~f", "titlePadding": 2.5, "domainColor": "#666", "title": "Effort / rangée (N/rang)"}}
   },
   "layer": [
    {"data": {"name": "curves"}, "transform": [{"filter": "datum.p == 4"}],
     "mark": {"type": "line", "strokeWidth": 1.3},
     "encoding": {
       "detail": {"field": "c", "type": "nominal"},
       "color": {"field": "m", "type": "nominal", "scale": {"domain": ["carbone", "basalte", "verre"], "range": ["#000", "#000", "#000"]},
         "legend": {"legendX": 96, "legendY": 15, "padding": 18.5, "rowPadding": 35.3, "symbolOffset": 14.4, "labelOffset": 2, "labelFontSize": 18,
           "labelExpr": "datum.label + '\u2800'",
           "encode": {"symbols": {"update": {
             "shape": {"signal": "datum.value === 'basalte' ? 'M-1,0H-0.43M0.43,0H1M-0.43,-0.43H0.43V0.43H-0.43Z' : datum.value === 'verre' ? 'M-1,0H1M-0.34,0A0.34,0.34,0,1,1,0.34,0A0.34,0.34,0,1,1,-0.34,0Z' : 'M-1,0H1'"},
             "fill": {"signal": "datum.value === 'verre' ? '#000' : datum.value === 'basalte' ? '#fff' : 'transparent'"},
             "stroke": {"value": "#000"}, "strokeWidth": {"value": 1.3}, "opacity": {"value": 1}}}}}}
     }},
    {"data": {"name": "markers"}, "transform": [{"filter": "datum.p == 4"}],
     "mark": {"type": "point", "filled": true, "stroke": "#000", "strokeWidth": 1},
     "encoding": {
       "shape": {"field": "m", "type": "nominal", "scale": {"domain": ["basalte", "verre"], "range": ["square", "circle"]}, "legend": null},
       "fill": {"field": "m", "type": "nominal", "scale": {"domain": ["basalte", "verre"], "range": ["#fff", "#000"]}, "legend": null},
       "size": {"field": "m", "type": "nominal", "scale": {"domain": ["basalte", "verre"], "range": [56, 32]}, "legend": null}
     }}
   ]}
 ], "spacing": 42,
 "resolve": {"scale": {"x": "independent", "y": "independent", "color": "independent", "shape": "independent", "fill": "independent", "size": "independent"}, "legend": {"color": "independent"}}}
],
"spacing": 35.5,
"resolve": {"scale": {"x": "independent", "y": "independent", "color": "independent", "shape": "independent", "fill": "independent", "size": "independent"}, "legend": {"color": "independent"}}
}
